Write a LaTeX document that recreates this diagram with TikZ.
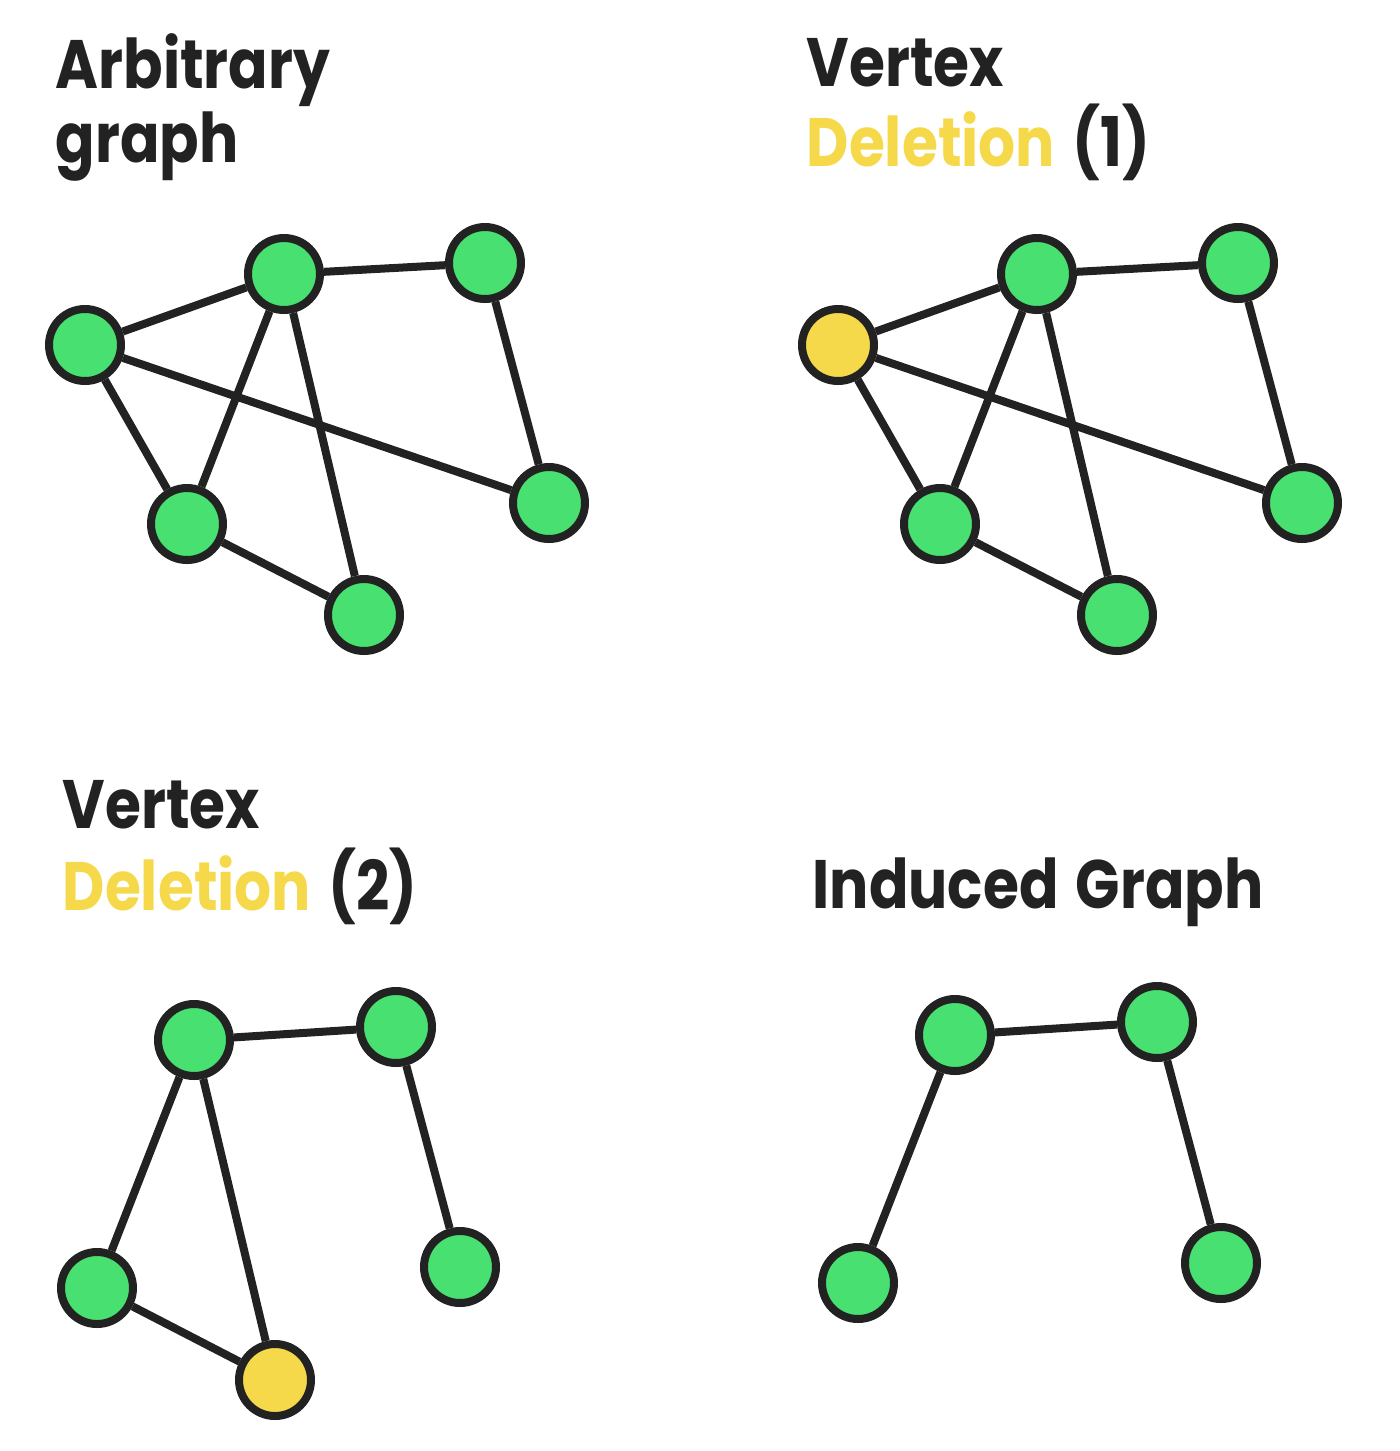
\documentclass[tikz,border=0pt]{standalone}
\usepackage{fontspec}
\setmainfont{Poppins}[UprightFont=* SemiBold, BoldFont=* Bold, FakeStretch=0.85, WordSpace=1.4]
\definecolor{vgreen}{HTML}{48E070}
\definecolor{vyellow}{HTML}{F6D94A}
\definecolor{vdark}{HTML}{222222}
\begin{document}
\begin{tikzpicture}[
	    vert/.style={circle, draw=vdark, fill=vgreen, line width=0.08cm, minimum size=0.72cm, inner sep=0pt},
	    gone/.style={vert, fill=vyellow},
	    edge/.style={draw=vdark, line width=0.08cm},
	    title/.style={anchor=base west, inner sep=0pt, font=\fontsize{19.5}{24}\bfseries, text=vdark}
	]
	    \useasboundingbox (0,0) rectangle (14,-14.51);
	    
	    % Titles
	    \node[title] (t1a) at (0.55, -0.88) {Arbitrary};
	    \node[title] (t1b) at (0.55, -1.62) {graph};
	    \node[title] (t2a) at (8.06, -0.86) {Vertex};
	    \node[title] (t2b) at (8.06, -1.66) {\textcolor{vyellow}{Deletion} (1)};
	    \node[title] (t3a) at (0.62, -8.28) {Vertex};
	    \node[title] (t3b) at (0.62, -9.10) {\textcolor{vyellow}{Deletion} (2)};
	    \node[title] (t4) at (8.12, -9.08) {Induced Graph};
	    
	    % Arbitrary graph
	    \node[vert] (a1) at (0.85, -3.45) {};
	    \node[vert] (b1) at (2.84, -2.74) {};
	    \node[vert] (c1) at (4.85, -2.63) {};
	    \node[vert] (d1) at (1.87, -5.24) {};
	    \node[vert] (e1) at (3.64, -6.15) {};
	    \node[vert] (f1) at (5.49, -5.03) {};
	    \draw[edge] (a1) -- (b1) (b1) -- (c1) (a1) -- (d1) (a1) -- (f1)
	        (b1) -- (d1) (b1) -- (e1) (c1) -- (f1) (d1) -- (e1);
	    
	    % Vertex deletion (1)
	    \node[gone] (a2) at (8.38, -3.45) {};
	    \node[vert] (b2) at (10.37, -2.74) {};
	    \node[vert] (c2) at (12.38, -2.63) {};
	    \node[vert] (d2) at (9.40, -5.24) {};
	    \node[vert] (e2) at (11.17, -6.15) {};
	    \node[vert] (f2) at (13.02, -5.03) {};
	    \draw[edge] (a2) -- (b2) (b2) -- (c2) (a2) -- (d2) (a2) -- (f2)
	        (b2) -- (d2) (b2) -- (e2) (c2) -- (f2) (d2) -- (e2);
	    
	    % Vertex deletion (2)
	    \node[vert] (b3) at (1.94, -10.40) {};
	    \node[vert] (c3) at (3.96, -10.27) {};
	    \node[vert] (d3) at (0.97, -12.88) {};
	    \node[gone] (e3) at (2.75, -13.80) {};
	    \node[vert] (f3) at (4.60, -12.67) {};
	    \draw[edge] (b3) -- (c3) (b3) -- (d3) (b3) -- (e3) (c3) -- (f3) (d3) -- (e3);
	    
	    % Induced graph
	    \node[vert] (b4) at (9.55, -10.35) {};
	    \node[vert] (c4) at (11.57, -10.22) {};
	    \node[vert] (d4) at (8.58, -12.83) {};
	    \node[vert] (f4) at (12.21, -12.63) {};
	    \draw[edge] (b4) -- (c4) (b4) -- (d4) (c4) -- (f4);
	\end{tikzpicture}
\end{document}
